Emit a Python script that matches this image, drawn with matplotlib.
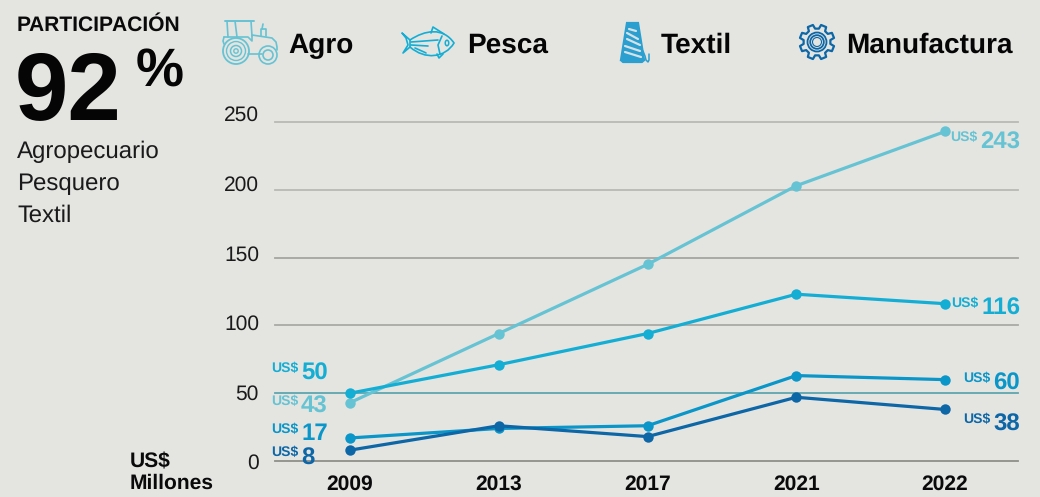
import numpy as np
from matplotlib import pyplot as plt
from matplotlib.patches import Circle, Ellipse, Polygon, PathPatch
from matplotlib.path import Path

plt.rcParams['font.family'] = ['Liberation Sans', 'DejaVu Sans']
plt.rcParams['text.hinting'] = 'no_hinting'
plt.rcParams['text.hinting_factor'] = 1

# datos
years = ['2009', '2013', '2017', '2021', '2022']
agro = [43, 94, 145, 203, 243]
pesca = [50, 71, 94, 123, 116]
textil = [17, 24, 26, 63, 60]
manufactura = [8, 26, 18, 47, 38]
y_ticks = [0, 50, 100, 150, 200, 250]
sectors = ['Agro', 'Pesca', 'Textil', 'Manufactura']
shares = ['Agropecuario', 'Pesquero', 'Textil']

BG = '#e4e5e1'
C_AGRO = '#66c3d3'
C_PESCA = '#14aed4'
C_TEXTIL = '#0a96c8'
C_MANU = '#0d66a6'

W, H = 1040, 497
fig = plt.figure(figsize=(W / 100, H / 100), dpi=100, facecolor=BG)

# eje del grafico: pixeles 275-1018 en x, 122-461 en y
ax = fig.add_axes([275 / W, 1 - 461 / H, (1018 - 275) / W, (461 - 122) / H])
ax.set_facecolor('none')
ax.set_xlim(-0.504, 4.49)
ax.set_ylim(0, 250)
for s in ax.spines.values():
    s.set_visible(False)

grid_colors = {0: '#8f8f8a', 50: '#5fa6b0', 100: '#a9aaa5', 150: '#a4a5a0', 200: '#b8b9b4', 250: '#b8b9b4'}
for t in y_ticks:
    ax.axhline(t, color=grid_colors[t], lw=1.3, zorder=1, clip_on=False)

x = np.arange(len(years))
for vals, c in [(agro, C_AGRO), (pesca, C_PESCA), (textil, C_TEXTIL), (manufactura, C_MANU)]:
    ax.plot(x, vals, color=c, lw=2.3, marker='o', ms=7.5, mew=0, zorder=3, clip_on=False)

ax.set_xticks(x)
ax.set_xticklabels(years, fontsize=15, fontweight='bold', color='#0a0a0a')
ax.tick_params(axis='x', length=0, pad=10)

# las etiquetas del eje y no estan alineadas con sus lineas en el original
ax.set_yticks(y_ticks)
ax.set_yticklabels([])
ax.tick_params(axis='y', length=0)
y_label_shift = {0: 0, 50: 1, 100: 3, 150: 4, 200: 7, 250: 9}
for t in y_ticks:
    ax.annotate(str(t), (0, t), xycoords=('axes fraction', 'data'), xytext=(-16, y_label_shift[t]),
                textcoords='offset pixels', fontsize=15, color='#1a1a1a', ha='right', va='center_baseline',
                annotation_clip=False)


# etiquetas de valor, desplazadas desde el punto
def value_label(i, vals, c, dx, dy, dy2=-8):
    ax.annotate('US$', (x[i], vals[i]), xytext=(dx, dy), textcoords='offset pixels', color=c,
                fontsize=10, fontweight='bold', ha='left', va='baseline', zorder=4, annotation_clip=False)
    ax.annotate(str(vals[i]), (x[i], vals[i]), xytext=(dx + 30, dy + dy2), textcoords='offset pixels', color=c,
                fontsize=17, fontweight='bold', ha='left', va='baseline', zorder=4, annotation_clip=False)


value_label(0, pesca, C_PESCA, -79, 21)
value_label(0, agro, C_AGRO, -79, -2)
value_label(0, textil, C_TEXTIL, -79, 5, -7)
value_label(0, manufactura, C_MANU, -79, -6, -9)
value_label(4, agro, C_AGRO, 5, -9)
value_label(4, pesca, C_PESCA, 6, -3)
value_label(4, textil, C_TEXTIL, 18, -2)
value_label(4, manufactura, C_MANU, 18, -13)

# capa en pixeles para los textos e iconos
ov = fig.add_axes([0, 0, 1, 1])
ov.set_xlim(0, W)
ov.set_ylim(H, 0)
ov.axis('off')
ov.patch.set_alpha(0)

ov.text(17, 31, 'PARTICIPACIÓN', fontsize=14.8, fontweight='bold', color='#0a0a0a', va='baseline')
ov.text(15, 119, '92', fontsize=69, fontweight='bold', color='#050505', va='baseline')
ov.text(136, 87, '%', fontsize=39, fontweight='bold', color='#050505', va='baseline')
for name, yy in zip(shares, [158, 190, 222]):
    ov.text(17, yy, name, fontsize=17.4, color='#1a1a1a', va='baseline')
ov.text(130, 467, 'US$', fontsize=15, fontweight='bold', color='#0a0a0a', va='baseline')
ov.text(130, 489, 'Millones', fontsize=15, fontweight='bold', color='#0a0a0a', va='baseline')
for name, xx in zip(sectors, [288, 467, 661, 846]):
    ov.text(xx, 53, name, fontsize=20, fontweight='bold', color='#050505', va='baseline')


def line(xs, ys, c, lw=1.2):
    ov.plot(xs, ys, color=c, lw=lw, solid_capstyle='round', solid_joinstyle='round')


def ring(cx, cy, r, c, lw=1.2):
    ov.add_patch(Circle((cx, cy), r, fill=False, ec=c, lw=lw))


# tractor
line([225, 254], [21, 21], C_AGRO, 1.4)
line([227, 228], [21, 37], C_AGRO)
line([235, 237], [21, 37], C_AGRO)
line([251, 252], [21, 36], C_AGRO)
line([224, 248, 252, 252, 272, 276, 277, 277], [37, 37, 41, 35, 38, 42, 47, 50], C_AGRO)
line([224, 223, 224], [37, 41, 44], C_AGRO)
line([248, 262], [54, 54], C_AGRO)
line([261, 261, 266, 266], [36, 29, 29, 36], C_AGRO)
line([262, 263], [29, 24], C_AGRO)
for r, lw in [(13, 1.3), (9.5, 1.0), (5.5, 1.1), (2.2, 1.0)]:
    ring(236, 51, r, C_AGRO, lw)
for r in [9, 5]:
    ring(268, 55, r, C_AGRO)

# pez
fish = Path([(410, 40), (425, 30), (443, 27), (454, 43), (445, 58), (425, 60), (410, 47), (410, 40)],
            [Path.MOVETO, Path.CURVE4, Path.CURVE4, Path.CURVE4, Path.CURVE4, Path.CURVE4, Path.CURVE4, Path.CLOSEPOLY])
ov.add_patch(PathPatch(fish, fill=False, ec=C_PESCA, lw=1.2))
line([410, 402, 406, 408, 403, 410], [40, 33, 38, 45, 53, 47], C_PESCA)
line([411, 438], [42, 40], C_PESCA)
line([411, 428], [45, 46], C_PESCA)
line([431, 433, 444], [33, 27, 34], C_PESCA)
line([415, 424, 426], [48, 52, 53], C_PESCA)
line([442, 438, 440], [36, 45, 54], C_PESCA)
line([437, 439, 443], [54, 58, 54], C_PESCA)
ov.add_patch(Ellipse((447, 43), 3.5, 5.5, fill=False, ec=C_PESCA, lw=1.1))

# hilo
C_HILO = '#2a9fd0'
ov.add_patch(Polygon([(627, 23), (638, 23), (644, 60), (621, 60)], closed=True, fc=C_HILO, ec=C_HILO, lw=1.6))
line([621, 623, 642, 644], [60, 62, 62, 60], C_HILO, 1.6)
for y0, y1, x0, x1 in [(29, 31, 629, 636), (33, 39, 627, 638), (39, 45, 627, 640), (46, 51, 625, 640), (52, 57, 625, 641)]:
    line([x0, x1], [y0, y1], '#d5e3e6', lw=1.6)
line([643, 645, 646, 648, 649, 649], [51, 56, 60, 62, 60, 54], C_HILO, lw=1.1)

# engranaje
cx, cy = 817, 42
n_teeth = 8
angs, rads = [], []
for k in range(n_teeth):
    a = 2 * np.pi * (k + 0.5) / n_teeth + np.pi / 2
    d = 2 * np.pi / n_teeth
    angs += [a - 0.32 * d, a - 0.2 * d, a + 0.2 * d, a + 0.32 * d]
    rads += [13.5, 17.5, 17.5, 13.5]
gear = np.column_stack([cx + np.array(rads) * np.cos(angs), cy + np.array(rads) * np.sin(angs)])
ov.add_patch(Polygon(gear, closed=True, fill=False, ec=C_MANU, lw=1.6, joinstyle='round'))
for r, lw in [(9.5, 1.3), (6.8, 1.3), (4.5, 0.8)]:
    ring(cx, cy, r, C_MANU, lw)

fig.savefig('out.png', dpi=100, facecolor=BG)
